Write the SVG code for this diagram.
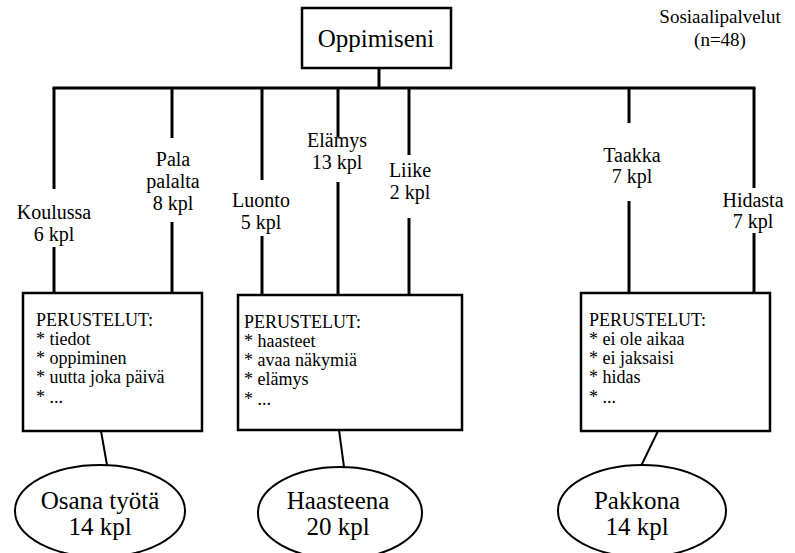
<svg xmlns="http://www.w3.org/2000/svg" width="795" height="553" viewBox="0 0 795 553">
  <rect width="795" height="553" fill="#fff"/>

  <!-- tree lines and links -->
  <g id="connectors" stroke="#000" fill="none">
    <g stroke-width="3">
      <line x1="379" y1="68" x2="379" y2="88"/>
      <line x1="52.5" y1="88" x2="755.5" y2="88"/>
      <line x1="54" y1="88" x2="54" y2="189"/>
      <line x1="54" y1="247" x2="54" y2="293"/>
      <line x1="172" y1="88" x2="172" y2="138"/>
      <line x1="172" y1="222" x2="172" y2="293"/>
      <line x1="262" y1="88" x2="262" y2="180"/>
      <line x1="262" y1="236" x2="262" y2="295"/>
      <line x1="338" y1="88" x2="338" y2="137"/>
      <line x1="338" y1="182" x2="338" y2="295"/>
      <line x1="409" y1="88" x2="409" y2="155"/>
      <line x1="409" y1="218" x2="409" y2="295"/>
      <line x1="629" y1="88" x2="629" y2="123"/>
      <line x1="629" y1="201" x2="629" y2="293"/>
      <line x1="754" y1="88" x2="754" y2="188"/>
      <line x1="754" y1="233" x2="754" y2="293"/>
    </g>
    <g stroke-width="2">
      <line x1="101" y1="431" x2="107" y2="465"/>
      <line x1="339" y1="430" x2="344" y2="467"/>
      <line x1="658" y1="431" x2="641" y2="466"/>
    </g>
  </g>

  <g id="root">
    <rect x="302" y="8" width="149" height="60" fill="#fff" stroke="#000" stroke-width="2.5"/>
    <text x="376" y="47" font-size="25" text-anchor="middle" font-family="Liberation Serif" style="font-family:'Liberation Serif',serif">Oppimiseni</text>
  </g>

  <g id="sample">
    <text x="720" y="23" font-size="19" text-anchor="middle" font-family="Liberation Serif" style="font-family:'Liberation Serif',serif">Sosiaalipalvelut</text>
    <text x="720" y="46" font-size="19" text-anchor="middle" font-family="Liberation Serif" style="font-family:'Liberation Serif',serif">(n=48)</text>
  </g>

  <g id="koulussa">
    <text x="54" y="219" font-size="20" text-anchor="middle" font-family="Liberation Serif" style="font-family:'Liberation Serif',serif">Koulussa</text>
    <text x="54" y="241" font-size="20" text-anchor="middle" font-family="Liberation Serif" style="font-family:'Liberation Serif',serif">6 kpl</text>
  </g>
  <g id="pala-palalta">
    <text x="173" y="166" font-size="20" text-anchor="middle" font-family="Liberation Serif" style="font-family:'Liberation Serif',serif">Pala</text>
    <text x="173" y="188" font-size="20" text-anchor="middle" font-family="Liberation Serif" style="font-family:'Liberation Serif',serif">palalta</text>
    <text x="173" y="210" font-size="20" text-anchor="middle" font-family="Liberation Serif" style="font-family:'Liberation Serif',serif">8 kpl</text>
  </g>
  <g id="luonto">
    <text x="261" y="207" font-size="20" text-anchor="middle" font-family="Liberation Serif" style="font-family:'Liberation Serif',serif">Luonto</text>
    <text x="261" y="229" font-size="20" text-anchor="middle" font-family="Liberation Serif" style="font-family:'Liberation Serif',serif">5 kpl</text>
  </g>
  <g id="elamys">
    <text x="337" y="147" font-size="20" text-anchor="middle" font-family="Liberation Serif" style="font-family:'Liberation Serif',serif">El&#228;mys</text>
    <text x="337" y="169" font-size="20" text-anchor="middle" font-family="Liberation Serif" style="font-family:'Liberation Serif',serif">13 kpl</text>
  </g>
  <g id="liike">
    <text x="410" y="177" font-size="20" text-anchor="middle" font-family="Liberation Serif" style="font-family:'Liberation Serif',serif">Liike</text>
    <text x="410" y="199" font-size="20" text-anchor="middle" font-family="Liberation Serif" style="font-family:'Liberation Serif',serif">2 kpl</text>
  </g>
  <g id="taakka">
    <text x="632" y="162" font-size="20" text-anchor="middle" font-family="Liberation Serif" style="font-family:'Liberation Serif',serif">Taakka</text>
    <text x="632" y="183" font-size="20" text-anchor="middle" font-family="Liberation Serif" style="font-family:'Liberation Serif',serif">7 kpl</text>
  </g>
  <g id="hidasta">
    <text x="753" y="207" font-size="20" text-anchor="middle" font-family="Liberation Serif" style="font-family:'Liberation Serif',serif">Hidasta</text>
    <text x="753" y="228" font-size="20" text-anchor="middle" font-family="Liberation Serif" style="font-family:'Liberation Serif',serif">7 kpl</text>
  </g>

  <g id="perustelut-1">
    <rect x="23" y="293" width="179" height="138" fill="#fff" stroke="#000" stroke-width="2.5"/>
    <text x="36" y="326" font-size="18" font-family="Liberation Serif" style="font-family:'Liberation Serif',serif">PERUSTELUT:</text>
    <text x="36" y="345" font-size="18" font-family="Liberation Serif" style="font-family:'Liberation Serif',serif">* tiedot</text>
    <text x="36" y="364" font-size="18" font-family="Liberation Serif" style="font-family:'Liberation Serif',serif">* oppiminen</text>
    <text x="36" y="383" font-size="18" font-family="Liberation Serif" style="font-family:'Liberation Serif',serif">* uutta joka p&#228;iv&#228;</text>
    <text x="36" y="403" font-size="18" font-family="Liberation Serif" style="font-family:'Liberation Serif',serif">* ...</text>
  </g>
  <g id="perustelut-2">
    <rect x="238" y="295" width="224" height="135" fill="#fff" stroke="#000" stroke-width="2.5"/>
    <text x="244" y="328" font-size="18" font-family="Liberation Serif" style="font-family:'Liberation Serif',serif">PERUSTELUT:</text>
    <text x="244" y="347" font-size="18" font-family="Liberation Serif" style="font-family:'Liberation Serif',serif">* haasteet</text>
    <text x="244" y="366" font-size="18" font-family="Liberation Serif" style="font-family:'Liberation Serif',serif">* avaa n&#228;kymi&#228;</text>
    <text x="244" y="385" font-size="18" font-family="Liberation Serif" style="font-family:'Liberation Serif',serif">* el&#228;mys</text>
    <text x="244" y="405" font-size="18" font-family="Liberation Serif" style="font-family:'Liberation Serif',serif">* ...</text>
  </g>
  <g id="perustelut-3">
    <rect x="581" y="293" width="189" height="138" fill="#fff" stroke="#000" stroke-width="2.5"/>
    <text x="589" y="326" font-size="18" font-family="Liberation Serif" style="font-family:'Liberation Serif',serif">PERUSTELUT:</text>
    <text x="589" y="345" font-size="18" font-family="Liberation Serif" style="font-family:'Liberation Serif',serif">* ei ole aikaa</text>
    <text x="589" y="364" font-size="18" font-family="Liberation Serif" style="font-family:'Liberation Serif',serif">* ei jaksaisi</text>
    <text x="589" y="383" font-size="18" font-family="Liberation Serif" style="font-family:'Liberation Serif',serif">* hidas</text>
    <text x="589" y="403" font-size="18" font-family="Liberation Serif" style="font-family:'Liberation Serif',serif">* ...</text>
  </g>

  <g id="osana-tyota">
    <ellipse cx="100" cy="511" rx="85" ry="46" fill="#fff" stroke="#000" stroke-width="2"/>
    <text x="100" y="509" font-size="25" text-anchor="middle" font-family="Liberation Serif" style="font-family:'Liberation Serif',serif">Osana ty&#246;t&#228;</text>
    <text x="100" y="535" font-size="25" text-anchor="middle" font-family="Liberation Serif" style="font-family:'Liberation Serif',serif">14 kpl</text>
  </g>
  <g id="haasteena">
    <ellipse cx="340" cy="513" rx="82" ry="46" fill="#fff" stroke="#000" stroke-width="2"/>
    <text x="338" y="509" font-size="25" text-anchor="middle" font-family="Liberation Serif" style="font-family:'Liberation Serif',serif">Haasteena</text>
    <text x="338" y="535" font-size="25" text-anchor="middle" font-family="Liberation Serif" style="font-family:'Liberation Serif',serif">20 kpl</text>
  </g>
  <g id="pakkona">
    <ellipse cx="642" cy="511" rx="84" ry="46" fill="#fff" stroke="#000" stroke-width="2"/>
    <text x="637" y="509" font-size="25" text-anchor="middle" font-family="Liberation Serif" style="font-family:'Liberation Serif',serif">Pakkona</text>
    <text x="637" y="535" font-size="25" text-anchor="middle" font-family="Liberation Serif" style="font-family:'Liberation Serif',serif">14 kpl</text>
  </g>
</svg>
